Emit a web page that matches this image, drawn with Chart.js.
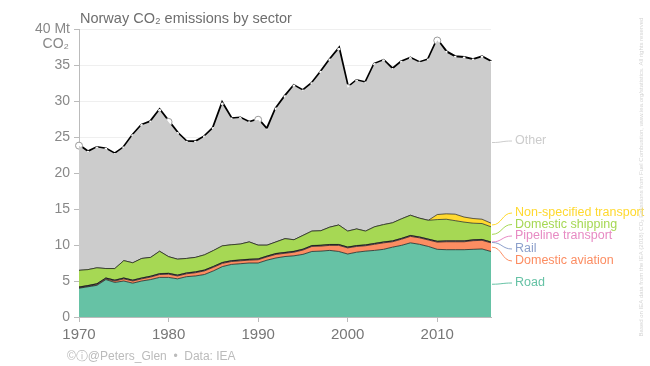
<!DOCTYPE html>
<html lang="en">
<head>
<meta charset="UTF-8">
<title>Norway CO2 emissions by sector</title>
<style>
    html, body { margin: 0; padding: 0; background: #ffffff; }
    #wrap { width: 650px; height: 366px; }
</style>
</head>
<body>
<div id="wrap"><canvas id="chart" width="650" height="366"></canvas></div>
<script src="https://cdn.jsdelivr.net/npm/chart.js"></script>
<script>
const FONT = "'Liberation Sans', Arial, sans-serif";

// years on the x axis
const years = [
    1970, 1971, 1972, 1973, 1974, 1975, 1976, 1977, 1978, 1979,
    1980, 1981, 1982, 1983, 1984, 1985, 1986, 1987, 1988, 1989,
    1990, 1991, 1992, 1993, 1994, 1995, 1996, 1997, 1998, 1999,
    2000, 2001, 2002, 2003, 2004, 2005, 2006, 2007, 2008, 2009,
    2010, 2011, 2012, 2013, 2014, 2015, 2016
];

// emissions by sector, Mt CO2
const road = [
    4.0, 4.2, 4.4, 5.2, 4.8, 5.0, 4.7, 5.0, 5.2, 5.5,
    5.5, 5.3, 5.6, 5.7, 5.9, 6.4, 7.0, 7.3, 7.4, 7.5,
    7.5, 7.9, 8.2, 8.4, 8.5, 8.7, 9.1, 9.15, 9.25, 9.1,
    8.75, 9.0, 9.15, 9.25, 9.4, 9.7, 9.95, 10.3, 10.1, 9.8,
    9.4, 9.35, 9.35, 9.35, 9.4, 9.45, 9.1
];
const aviation = [
    0.05, 0.05, 0.1, 0.1, 0.2, 0.3, 0.3, 0.3, 0.35, 0.4,
    0.45, 0.4, 0.4, 0.45, 0.5, 0.5, 0.45, 0.4, 0.4, 0.4,
    0.45, 0.45, 0.5, 0.45, 0.5, 0.6, 0.7, 0.7, 0.7, 0.85,
    0.85, 0.8, 0.75, 0.85, 0.9, 0.75, 0.85, 0.9, 0.9, 0.9,
    1.0, 1.1, 1.1, 1.1, 1.2, 1.2, 1.2
];
const rail = [
    0.1, 0.1, 0.1, 0.1, 0.1, 0.1, 0.1, 0.1, 0.1, 0.1,
    0.1, 0.1, 0.1, 0.1, 0.1, 0.1, 0.1, 0.1, 0.1, 0.1,
    0.1, 0.1, 0.1, 0.1, 0.1, 0.1, 0.1, 0.1, 0.1, 0.1,
    0.1, 0.1, 0.1, 0.1, 0.1, 0.1, 0.1, 0.1, 0.1, 0.1,
    0.1, 0.1, 0.1, 0.1, 0.1, 0.1, 0.1
];
const pipeline = [
    0.03, 0.03, 0.03, 0.03, 0.03, 0.03, 0.03, 0.03, 0.03, 0.03,
    0.03, 0.03, 0.03, 0.03, 0.03, 0.03, 0.03, 0.03, 0.03, 0.03,
    0.03, 0.03, 0.03, 0.03, 0.03, 0.03, 0.03, 0.03, 0.03, 0.03,
    0.03, 0.03, 0.03, 0.03, 0.03, 0.03, 0.03, 0.03, 0.03, 0.03,
    0.03, 0.03, 0.03, 0.03, 0.03, 0.03, 0.03
];
const shipping = [
    2.3, 2.2, 2.2, 1.3, 1.6, 2.4, 2.4, 2.7, 2.6, 3.1,
    2.3, 2.2, 2.0, 2.0, 2.1, 2.2, 2.3, 2.2, 2.2, 2.4,
    1.9, 1.5, 1.6, 1.9, 1.6, 1.9, 2.0, 2.0, 2.4, 2.7,
    2.2, 2.3, 1.9, 2.3, 2.4, 2.5, 2.7, 2.8, 2.6, 2.6,
    3.0, 3.0, 2.8, 2.6, 2.3, 2.2, 2.1
];
const nonSpecified = [
    0, 0, 0, 0, 0, 0, 0, 0, 0, 0,
    0, 0, 0, 0, 0, 0, 0, 0, 0, 0,
    0, 0, 0, 0, 0, 0, 0, 0, 0, 0,
    0, 0, 0, 0, 0, 0, 0, 0, 0, 0,
    0.7, 0.75, 0.9, 0.7, 0.65, 0.6, 0.5
];
const other = [
    17.3, 16.3, 16.7, 16.6, 15.9, 15.7, 17.7, 18.5, 18.8, 19.6,
    18.7, 17.5, 16.2, 16.0, 16.4, 17.0, 19.7, 17.5, 17.5, 16.6,
    17.4, 16.0, 18.5, 19.7, 21.4, 20.1, 20.5, 22.0, 23.2, 24.4,
    19.9, 20.6, 20.6, 22.6, 22.8, 21.3, 21.8, 21.8, 21.6, 22.3,
    24.2, 22.4, 21.8, 22.1, 22.0, 22.5, 22.4
];
const total = [
    23.8, 22.9, 23.5, 23.3, 22.6, 23.5, 25.2, 26.6, 27.1, 28.7,
    27.1, 25.5, 24.3, 24.3, 25.0, 26.2, 29.6, 27.5, 27.6, 27.0,
    27.4, 26.0, 28.9, 30.6, 32.1, 31.4, 32.4, 34.0, 35.7, 37.2,
    31.8, 32.8, 32.5, 35.1, 35.6, 34.4, 35.4, 35.9, 35.3, 35.7,
    38.4, 36.8, 36.1, 36.0, 35.7, 36.1, 35.4
];

const yTicks = [0, 5, 10, 15, 20, 25, 30, 35, 40];

// labels on the right, with their text colours
const sectorLabels = [
    { name: 'Other', index: 6, color: '#cccccc', y: 141 },
    { name: 'Non-specified transport', index: 5, color: '#ffd92f', y: 213 },
    { name: 'Domestic shipping', index: 4, color: '#a6d854', y: 224.5 },
    { name: 'Pipeline transport', index: 3, color: '#e78ac3', y: 236 },
    { name: 'Rail', index: 2, color: '#8da0cb', y: 249 },
    { name: 'Domestic aviation', index: 1, color: '#fc8d62', y: 261 },
    { name: 'Road', index: 0, color: '#66c2a5', y: 283 }
];

function area(label, data, color, fill, edge) {
    return {
        label: label,
        data: data,
        backgroundColor: color,
        borderColor: edge,
        borderWidth: edge ? 1 : 0,
        fill: fill,
        pointRadius: 0,
        stack: 'sectors'
    };
}

// draws title, unit, right-hand labels and credits
const decorations = {
    id: 'decorations',
    afterDraw(chart) {
        const ctx = chart.ctx;
        const box = chart.chartArea;
        const yScale = chart.scales.y;
        const last = years.length - 1;
        ctx.save();

        ctx.textBaseline = 'middle';
        ctx.textAlign = 'left';
        ctx.fillStyle = '#6e6e6e';
        ctx.font = '14.5px ' + FONT;
        ctx.fillText('Norway CO₂ emissions by sector', box.left + 1, 19);

        ctx.textAlign = 'right';
        ctx.fillStyle = '#888888';
        ctx.font = '14px ' + FONT;
        ctx.fillText('CO₂', 69, yScale.getPixelForValue(40) + 15);

        // sector labels with connectors
        ctx.font = '12.5px ' + FONT;
        ctx.textAlign = 'left';
        ctx.lineWidth = 1;
        sectorLabels.forEach(function (s) {
            const top = chart.getDatasetMeta(s.index).data[last].y;
            const bottom = s.index > 0
                ? chart.getDatasetMeta(s.index - 1).data[last].y
                : yScale.getPixelForValue(0);
            const mid = (top + bottom) / 2;
            const x0 = box.right + 1;
            const x1 = box.right + 21;
            ctx.strokeStyle = s.color;
            ctx.beginPath();
            ctx.moveTo(x0, mid);
            ctx.bezierCurveTo(x0 + 10, mid, x1 - 10, s.y, x1, s.y);
            ctx.stroke();
            ctx.fillStyle = s.color;
            ctx.fillText(s.name, x1 + 3, s.y);
        });

        // footer
        ctx.fillStyle = '#bbbbbb';
        ctx.font = '12px ' + FONT;
        ctx.fillText('©ⓘ@Peters_Glen  •  Data: IEA', 67, 357);

        // vertical source note
        ctx.translate(641, 177);
        ctx.rotate(-Math.PI / 2);
        ctx.textAlign = 'center';
        ctx.fillStyle = '#d4d4d4';
        ctx.font = '6px ' + FONT;
        ctx.fillText('Based on IEA data from the IEA (2018) CO₂ Emissions from Fuel Combustion, www.iea.org/statistics. All rights reserved', 0, 0);

        ctx.restore();
    }
};

const ctx = document.getElementById('chart').getContext('2d');
const chart = new Chart(ctx, {
    type: 'line',
    data: {
        labels: years,
        datasets: [
            area('Road', road, '#66c2a5', 'origin', 'rgba(30,30,30,0.75)'),
            area('Domestic aviation', aviation, '#fc8d62', '-1', 'rgba(30,30,30,0.75)'),
            area('Rail', rail, '#8da0cb', '-1', 'rgba(20,20,20,0.9)'),
            area('Pipeline transport', pipeline, '#e78ac3', '-1', 'rgba(20,20,20,0.6)'),
            area('Domestic shipping', shipping, '#a6d854', '-1', 'rgba(30,30,30,0.7)'),
            area('Non-specified transport', nonSpecified, '#ffd92f', '-1', 'rgba(30,30,30,0.7)'),
            area('Other', other, '#cccccc', '-1', null),
            {
                label: 'Total',
                data: total,
                stack: 'total',
                fill: false,
                borderColor: '#000000',
                borderWidth: 3.5,
                pointRadius: (c) => years[c.dataIndex] % 10 === 0 ? 3.5 : 1.4,
                pointBackgroundColor: '#ffffff',
                pointBorderColor: (c) => years[c.dataIndex] % 10 === 0 ? '#999999' : '#ffffff',
                pointBorderWidth: (c) => years[c.dataIndex] % 10 === 0 ? 1 : 0
            }
        ]
    },
    options: {
        responsive: false,
        animation: false,
        layout: { padding: { left: 0, right: 159, top: 29, bottom: 0 } },
        elements: { line: { tension: 0 } },
        plugins: {
            legend: { display: false },
            tooltip: { enabled: false },
            title: { display: false }
        },
        scales: {
            x: {
                offset: false,
                grid: { drawOnChartArea: false, tickLength: 5, tickColor: '#bbbbbb' },
                border: { color: '#bbbbbb' },
                ticks: {
                    autoSkip: false,
                    maxRotation: 0,
                    padding: 4,
                    color: '#777777',
                    font: { size: 15, family: FONT },
                    callback: function (v, i) {
                        return years[i] % 10 === 0 ? String(years[i]) : null;
                    }
                },
                afterFit(s) { s.height = 49; }
            },
            y: {
                stacked: true,
                min: 0,
                max: 40,
                grid: { color: '#efefef', tickLength: 5, tickColor: '#bbbbbb' },
                border: { color: '#bbbbbb' },
                afterBuildTicks(s) { s.ticks = yTicks.map(v => ({ value: v })); },
                ticks: {
                    padding: 4,
                    color: '#888888',
                    font: { size: 14, family: FONT },
                    callback: (v) => v === 40 ? '40 Mt' : String(v)
                },
                afterFit(s) { s.width = 79; }
            }
        }
    },
    plugins: [decorations]
});
</script>
</body>
</html>
